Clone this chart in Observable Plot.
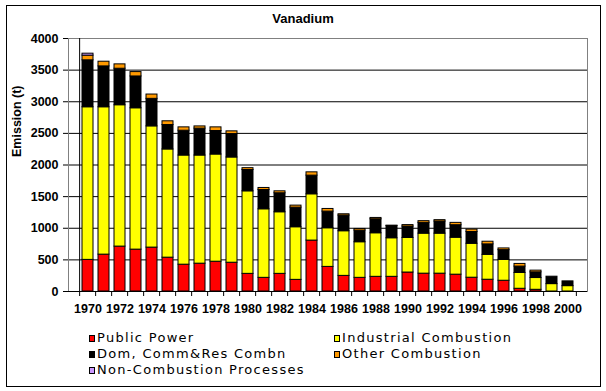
<!DOCTYPE html>
<html>
<head>
<meta charset="utf-8">
<script src="https://cdn.jsdelivr.net/npm/d3@7"></script>
<script src="https://cdn.jsdelivr.net/npm/@observablehq/plot@0.6"></script>
<style>
  html, body { margin: 0; padding: 0; background: #fff; }
  #wrap { position: relative; width: 606px; height: 391px; overflow: hidden; }
  #border { position: absolute; left: 6px; top: 5px; width: 595px; height: 382px; box-sizing: border-box; border: 1px solid #000; pointer-events: none; }
  #title { position: absolute; left: 0; width: 606px; top: 11px; text-align: center; font: bold 13px "Liberation Sans", Arial, sans-serif; }
  .leg { position: absolute; font: 13px "DejaVu Sans", sans-serif; letter-spacing: 1.3px; line-height: 16px; white-space: nowrap; color: #000; }
  .sw { display: inline-block; width: 4px; height: 5px; border: 1px solid #000; margin-right: 2px; vertical-align: 0px; }
</style>
</head>
<body>
<div id="wrap"></div>
<script>
const years = [1970,1971,1972,1973,1974,1975,1976,1977,1978,1979,1980,1981,1982,1983,1984,1985,1986,1987,1988,1989,1990,1991,1992,1993,1994,1995,1996,1997,1998,1999,2000];
const publicPower = [500,583,710,662,694,535,424,440,471,455,279,216,279,184,805,389,247,216,232,232,300,282,282,266,218,186,170,43,27,0,0];
const industrialCombustion = [2413,2330,2235,2235,1917,1711,1726,1710,1695,1664,1305,1084,974,832,732,611,706,563,689,610,547,633,633,585,537,394,330,250,186,117,85];
const domCommResCombn = [742,646,577,503,435,386,392,425,371,370,337,305,300,310,295,263,247,184,221,195,180,170,191,197,186,165,154,101,90,117,75];
const otherCombustion = [74,74,69,69,68,59,53,35,58,43,29,32,31,32,52,42,21,26,21,3,23,27,22,37,38,42,27,42,27,0,0];
const nonCombustion = [31,0,0,0,0,0,0,0,0,0,0,0,0,0,0,0,0,0,0,0,0,0,0,0,0,0,0,0,0,0,0];
const seriesNames = ["Public Power","Industrial Combustion","Dom, Comm&Res Combn","Other Combustion","Non-Combustion Processes"];
const seriesColors = ["#FF0000","#FFFF00","#000000","#FF9900","#CC99FF"];
const yTicks = [0,500,1000,1500,2000,2500,3000,3500,4000];
const xLabels = years.filter(y => y % 2 === 0);
const chartTitle = "Vanadium";
const yTitle = "Emission (t)";

const seriesValues = [publicPower, industrialCombustion, domCommResCombn, otherCombustion, nonCombustion];
const rows = seriesValues.flatMap((vals, i) => years.map((yr, j) => ({year: yr, series: seriesNames[i], value: vals[j]}))).filter(d => d.value > 0);

const W = 606, H = 391, mL = 68, mR = 19, mT = 38, mB = 100;
const step = (W - mL - mR) / years.length;

const chart = Plot.plot({
  width: W, height: H,
  marginLeft: mL, marginRight: mR, marginTop: mT, marginBottom: mB,
  style: {fontFamily: '"Liberation Sans", Arial, sans-serif', fontSize: "12.5px", fontWeight: "bold", background: "transparent", color: "#000"},
  x: {type: "band", domain: years, paddingInner: 0.31, paddingOuter: 0.155, axis: null},
  y: {domain: [0, 4000], axis: null},
  color: {domain: seriesNames, range: seriesColors},
  marks: [
    Plot.ruleY(yTicks.filter(t => t > 0 && t < 4000), {stroke: "#000", strokeWidth: 1}),
    Plot.frame({stroke: "#808080", strokeWidth: 1}),
    Plot.barY(rows, {x: "year", y: "value", fill: "series", stroke: "#000", strokeWidth: 1}),
    Plot.ruleY([0], {stroke: "#000", strokeWidth: 1}),
    Plot.ruleX([years[0]], {dx: -step / 2, stroke: "#000", strokeWidth: 1}),
    Plot.axisY({ticks: yTicks, tickSize: 5, tickPadding: 5, tickFormat: d => String(d), label: null, fontWeight: "bold", fontSize: 12.5}),
    Plot.axisX({ticks: years, tickSize: 5, tickFormat: () => "", dx: -step / 2, label: null}),
    Plot.axisX({ticks: [years[years.length - 1]], tickSize: 5, tickFormat: () => "", dx: step / 2, label: null}),
    Plot.axisX({ticks: xLabels, tickSize: 0, tickPadding: 13, tickFormat: d => String(d), label: null, fontWeight: "bold", fontSize: 12.5}),
    Plot.text([yTitle], {text: d => d, frameAnchor: "left", rotate: -90, dx: -52, dy: -8, fontWeight: "bold", fontSize: 12.5})
  ]
});

const wrap = document.getElementById("wrap");
wrap.appendChild(chart);
chart.style.position = "absolute";
chart.style.left = "0px";
chart.style.top = "0px";

const title = document.createElement("div");
title.id = "title";
title.textContent = chartTitle;
wrap.appendChild(title);

const legendPos = [[89, 330], [334, 330], [89, 346], [334, 346], [89, 362]];
seriesNames.forEach((name, i) => {
  const item = document.createElement("div");
  item.className = "leg";
  item.style.left = legendPos[i][0] + "px";
  item.style.top = legendPos[i][1] + "px";
  const sw = document.createElement("span");
  sw.className = "sw";
  sw.style.background = seriesColors[i];
  item.appendChild(sw);
  item.appendChild(document.createTextNode(name));
  wrap.appendChild(item);
});

const border = document.createElement("div");
border.id = "border";
wrap.appendChild(border);
</script>
</body>
</html>
